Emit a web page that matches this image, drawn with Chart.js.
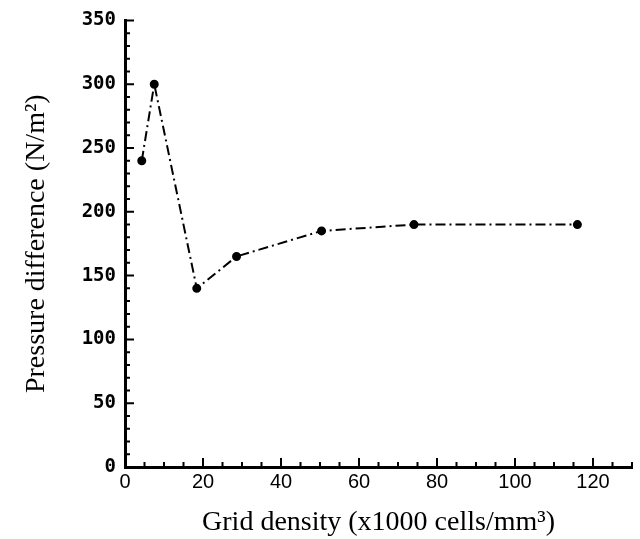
<!DOCTYPE html>
<html>
<head>
<meta charset="utf-8">
<script src="https://cdn.jsdelivr.net/npm/chart.js@4"></script>
<style>
  html, body { margin: 0; padding: 0; background: #fff; }
  #wrap { width: 640px; height: 539px; }
</style>
</head>
<body>
<div id="wrap"><canvas id="chart" width="640" height="539"></canvas></div>
<script>
// Values
const gridDensity = [4.3, 7.5, 18.4, 28.6, 50.4, 74.1, 116];
const pressureDiff = [240, 300, 140, 165, 185, 190, 190];

const xTicks = [0, 20, 40, 60, 80, 100, 120];
const yTicks = [0, 50, 100, 150, 200, 250, 300, 350];

// Draw tick marks pointing into the plot, like the original figure
const inwardTicks = {
  id: "inwardTicks",
  afterDraw(chart) {
    const ctx = chart.ctx;
    const x = chart.scales.x;
    const y = chart.scales.y;
    const area = chart.chartArea;
    ctx.save();
    ctx.strokeStyle = "#000";
    ctx.lineWidth = 2;
    ctx.beginPath();
    for (let v = 0; v <= 130; v += 5) {
      const px = x.getPixelForValue(v);
      const len = v % 20 === 0 ? 9 : 5;
      ctx.moveTo(px, area.bottom);
      ctx.lineTo(px, area.bottom - len);
    }
    for (let v = 0; v <= 350; v += 10) {
      const py = y.getPixelForValue(v);
      const len = v % 50 === 0 ? 9 : 5;
      ctx.moveTo(area.left, py);
      ctx.lineTo(area.left + len, py);
    }
    ctx.stroke();
    ctx.restore();
  },
};

new Chart(document.getElementById("chart"), {
  type: "line",
  data: {
    datasets: [
      {
        data: gridDensity.map((g, i) => ({ x: g, y: pressureDiff[i] })),
        borderColor: "#000",
        backgroundColor: "#000",
        borderWidth: 2,
        borderDash: [10, 4, 2, 4],
        pointRadius: 3.5,
        pointStyle: "circle",
        tension: 0,
      },
    ],
  },
  options: {
    responsive: false,
    animation: false,
    layout: { padding: { top: 13, right: 8, left: 0, bottom: 0 } },
    plugins: { legend: { display: false }, tooltip: { enabled: false } },
    scales: {
      x: {
        type: "linear",
        min: 0,
        max: 130,
        afterBuildTicks: (scale) => {
          scale.ticks = xTicks.map((v) => ({ value: v }));
        },
        afterFit: (scale) => {
          scale.height = 72;
        },
        grid: { display: false, drawTicks: false },
        border: { display: true, color: "#000", width: 3 },
        ticks: {
          color: "#000",
          padding: 3,
          maxRotation: 0,
          font: { family: "Liberation Sans", size: 20 },
        },
        title: {
          display: true,
          text: "Grid density (x1000 cells/mm³)",
          color: "#000",
          padding: { top: 10, bottom: 0 },
          font: { family: "Liberation Serif", size: 28 },
        },
      },
      y: {
        min: 0,
        max: 350,
        afterBuildTicks: (scale) => {
          scale.ticks = yTicks.map((v) => ({ value: v }));
        },
        afterFit: (scale) => {
          scale.width = 125;
        },
        grid: { display: false, drawTicks: false },
        border: { display: true, color: "#000", width: 3 },
        ticks: {
          color: "#000",
          padding: 9,
          font: { family: "DejaVu Sans Mono", size: 19, weight: "bold" },
        },
        title: {
          display: true,
          text: "Pressure difference (N/m²)",
          color: "#000",
          padding: { top: 20, bottom: 0 },
          font: { family: "Liberation Serif", size: 28 },
        },
      },
    },
  },
  plugins: [inwardTicks],
});
</script>
</body>
</html>
